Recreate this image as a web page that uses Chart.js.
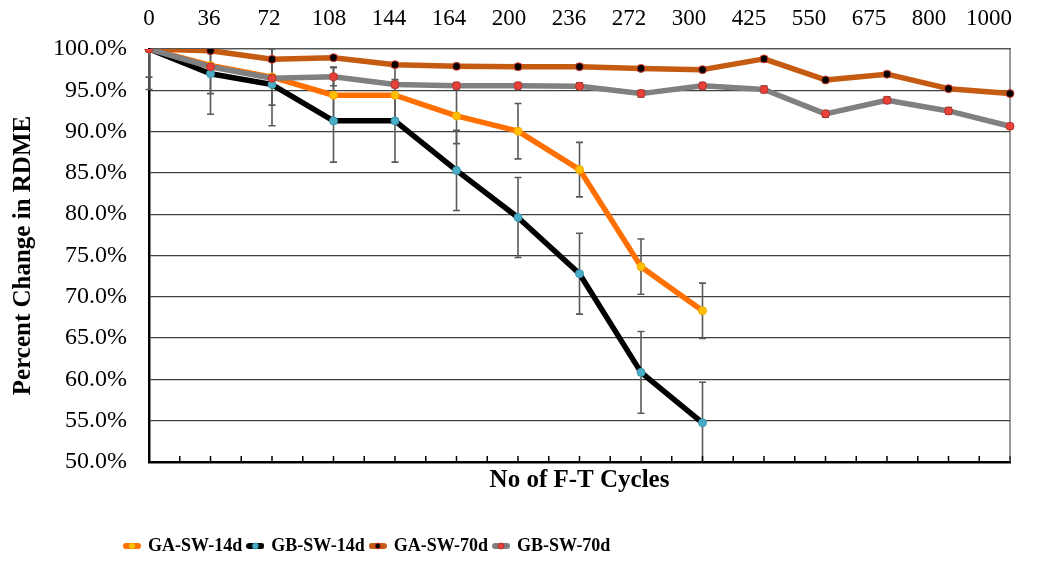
<!DOCTYPE html>
<html>
<head>
<meta charset="utf-8">
<script src="https://cdn.jsdelivr.net/npm/chart.js@4.4.1/dist/chart.umd.min.js"></script>
<style>
  html, body { margin: 0; padding: 0; background: #fff; }
  #wrap { width: 1040px; height: 565px; }
</style>
</head>
<body>
<div id="wrap"><canvas id="rdme" width="1040" height="565"></canvas></div>
<script>
// F-T cycle counts shown along the top axis
const cycles = ['0', '36', '72', '108', '144', '164', '200', '236', '272', '300', '425', '550', '675', '800', '1000'];

// percent of initial RDME
const gaSw14 = [100, 98.0, 96.6, 94.4, 94.4, 91.9, 90.05, 85.4, 73.65, 68.3, null, null, null, null, null];
const gbSw14 = [100, 97.0, 95.7, 91.3, 91.3, 85.3, 79.6, 72.8, 60.85, 54.75, null, null, null, null, null];
const gaSw70 = [100, 99.8, 98.75, 98.95, 98.1, 97.9, 97.85, 97.85, 97.65, 97.5, 98.8, 96.25, 96.95, 95.2, 94.6];
const gbSw70 = [100, 97.85, 96.45, 96.65, 95.7, 95.55, 95.55, 95.5, 94.6, 95.55, 95.1, 92.15, 93.8, 92.5, 90.65];

// +/- error bar half-widths (same units)
const gaSw14Err = [3.4, 3.4, 3.4, 3.4, 3.4, 3.35, 3.35, 3.3, 3.35, 3.35];
const gbSw14Err = [4.9, 4.9, 5.0, 5.0, 5.0, 4.85, 4.85, 4.9, 4.95, 4.9];
const gaSw70Err = [0.2, 0.3, 0.3, 0.3, 0.3, 0.3, 0.3, 0.3, 0.3, 0.3, 0.3, 0.3, 0.3, 0.3, 0.2];
const gbSw70Err = [0.3, 0.4, 0.5, 1.1, 0.4, 0.4, 0.4, 0.4, 0.4, 0.4, 0.4, 0.4, 0.4, 0.4, 0.3];
const errors = [gaSw14Err, gbSw14Err, gaSw70Err, gbSw70Err];

Chart.defaults.font.family = "'Liberation Serif', 'Times New Roman', serif";
Chart.defaults.color = '#000';

// little "line + dot" swatch for the legend, like Excel draws it
function legendIcon(line, fill, stroke) {
  const c = document.createElement('canvas');
  c.width = 18; c.height = 10;
  const g = c.getContext('2d');
  g.strokeStyle = line; g.lineWidth = 6; g.lineCap = 'round';
  g.beginPath(); g.moveTo(3, 5); g.lineTo(15, 5); g.stroke();
  g.fillStyle = fill; g.strokeStyle = stroke; g.lineWidth = 1;
  g.beginPath(); g.arc(9, 5, 3, 0, Math.PI * 2); g.fill(); g.stroke();
  return c;
}

const styles = [
  { line: '#FF7000', fill: '#FFC000', stroke: '#F5A800' },
  { line: '#000000', fill: '#4BACC6', stroke: '#3A9AB3' },
  { line: '#C55A11', fill: '#000000', stroke: '#E0402F' },
  { line: '#808080', fill: '#E8413A', stroke: '#B83228' },
];
const legendIcons = styles.map(s => legendIcon(s.line, s.fill, s.stroke));

function series(label, data, s, order) {
  return {
    label, data, order,
    borderColor: s.line,
    backgroundColor: s.fill,
    pointBackgroundColor: s.fill,
    pointBorderColor: s.stroke,
    pointBorderWidth: 1,
    pointRadius: 4,
    borderWidth: 5.5,
    borderJoinStyle: 'round',
    borderCapStyle: 'round',
    tension: 0,
  };
}

const errorBars = {
  id: 'errorBars',
  beforeDatasetsDraw(chart) {
    const { ctx, chartArea: a, scales: { x, y } } = chart;
    ctx.save();
    ctx.beginPath();
    ctx.rect(0, a.top, chart.width, a.bottom - a.top);
    ctx.clip();
    ctx.strokeStyle = '#5a5a5a';
    ctx.lineWidth = 1.6;
    chart.data.datasets.forEach((ds, di) => {
      const errs = errors[di];
      ds.data.forEach((v, i) => {
        if (v == null || errs[i] == null) return;
        const px = x.getPixelForValue(i);
        const hi = y.getPixelForValue(v + errs[i]);
        const lo = y.getPixelForValue(v - errs[i]);
        ctx.beginPath();
        ctx.moveTo(px, hi); ctx.lineTo(px, lo);
        ctx.moveTo(px - 3.5, hi); ctx.lineTo(px + 3.5, hi);
        ctx.moveTo(px - 3.5, lo); ctx.lineTo(px + 3.5, lo);
        ctx.stroke();
      });
    });
    ctx.restore();
  }
};

// inward minor ticks on the bottom axis + right frame line
const frame = {
  id: 'frame',
  beforeDatasetsDraw(chart) {
    const { ctx, chartArea: a, scales: { x } } = chart;
    ctx.save();
    ctx.strokeStyle = '#000';
    ctx.lineWidth = 1.5;
    ctx.beginPath();
    for (let i = 0; i <= (cycles.length - 1) * 2; i++) {
      const px = x.getPixelForValue(i / 2);
      ctx.moveTo(px, a.bottom); ctx.lineTo(px, a.bottom - 6);
    }
    ctx.stroke();
    ctx.strokeStyle = '#555';
    ctx.lineWidth = 1.2;
    ctx.beginPath(); ctx.moveTo(a.right, a.top); ctx.lineTo(a.right, a.bottom); ctx.stroke();
    ctx.restore();
  }
};

const legendShift = {
  id: 'legendShift',
  afterLayout(chart) { if (chart.legend) chart.legend.left = 119; }
};

new Chart(document.getElementById('rdme'), {
  type: 'line',
  data: {
    labels: cycles,
    datasets: [
      series('GA-SW-14d', gaSw14, styles[0], 3),
      series('GB-SW-14d', gbSw14, styles[1], 2),
      series('GA-SW-70d', gaSw70, styles[2], 1),
      series('GB-SW-70d', gbSw70, styles[3], 0),
    ],
  },
  options: {
    responsive: false,
    animation: false,
    layout: { padding: { left: 0, right: 30, top: 0, bottom: 0 } },
    plugins: {
      tooltip: { enabled: false },
      legend: {
        position: 'bottom',
        align: 'start',
        labels: {
          usePointStyle: true,
          pointStyleWidth: 14,
          padding: 6,
          color: '#000',
          font: { size: 18, weight: 'bold' },
          sort: (a, b) => a.datasetIndex - b.datasetIndex,
          generateLabels: chart => Chart.defaults.plugins.legend.labels.generateLabels(chart)
            .map(l => Object.assign(l, { pointStyle: legendIcons[l.datasetIndex] })),
        },
      },
    },
    scales: {
      x: {
        type: 'category',
        position: 'bottom',
        offset: false,
        afterFit(s) { s.height = 69; },
        ticks: { display: false },
        grid: { display: false, drawTicks: false },
        border: { color: '#000', width: 2.5 },
        title: {
          display: true, text: 'No of F-T Cycles', color: '#000',
          font: { size: 25, weight: 'bold' }, padding: { top: 0, bottom: 35 },
        },
      },
      xTop: {
        type: 'linear',
        position: 'top',
        min: 0,
        max: 14.35,
        afterFit(s) { s.height = 49; },
        afterBuildTicks(s) { s.ticks = cycles.map((c, i) => ({ value: i })); },
        ticks: {
          autoSkip: false, maxRotation: 0, padding: 16, color: '#000',
          font: { size: 23 }, callback: v => cycles[v],
        },
        grid: { display: false, drawTicks: false },
        border: { color: '#555', width: 1.2 },
      },
      y: {
        min: 50,
        max: 100,
        afterFit(s) { s.width = 149; },
        ticks: { stepSize: 5, padding: 22, color: '#000', font: { size: 24 }, callback: v => v.toFixed(1) + '%' },
        grid: { color: '#404040', lineWidth: 1.2, drawTicks: false },
        border: { color: '#000', width: 2.5 },
        title: {
          display: true, text: 'Percent Change in RDME', color: '#000',
          font: { size: 25, weight: 'bold' }, padding: { top: 9, bottom: 0 },
        },
      },
    },
  },
  plugins: [errorBars, frame, legendShift],
});
</script>
</body>
</html>
